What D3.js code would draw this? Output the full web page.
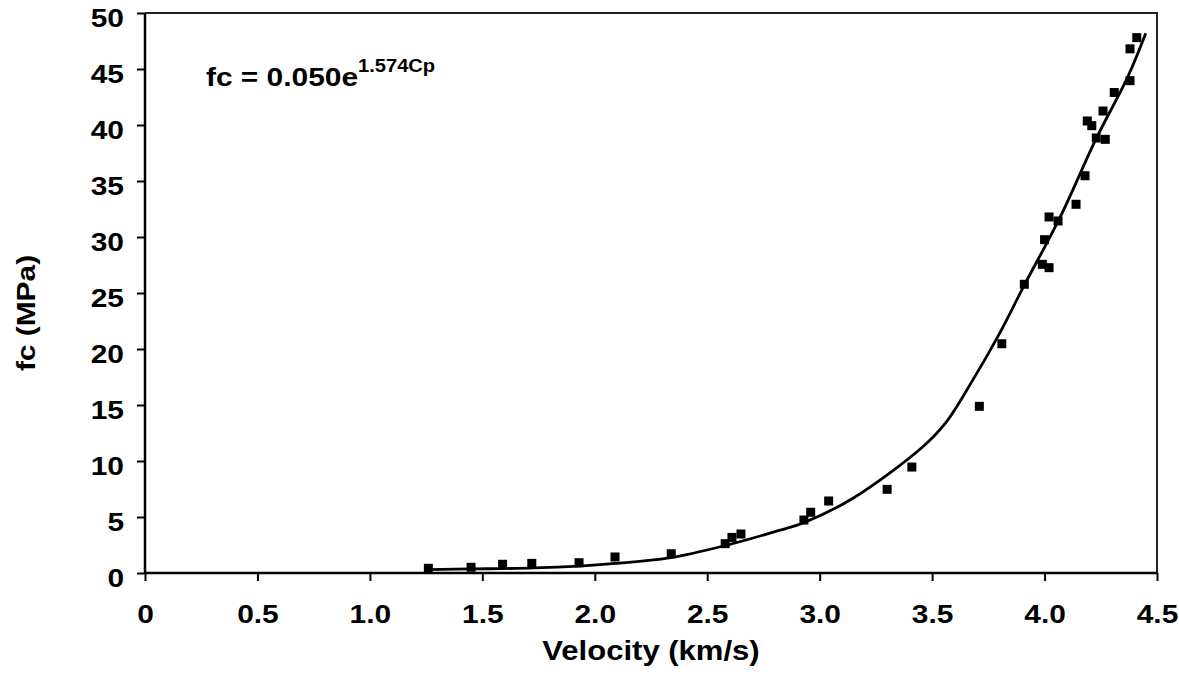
<!DOCTYPE html>
<html>
<head>
<meta charset="utf-8">
<script src="https://cdn.jsdelivr.net/npm/d3@7"></script>
<style>
  body { margin: 0; background: #fff; }
  text { font-family: "Liberation Sans", Arial, sans-serif; font-weight: bold; fill: #000; }
</style>
</head>
<body>
<div id="chart"></div>
<script>
// measured points: velocity (km/s), strength fc (MPa)
const velocity = [1.26, 1.45, 1.59, 1.72, 1.93, 2.09, 2.34, 2.58, 2.61, 2.65,
                  2.93, 2.96, 3.04, 3.30, 3.41, 3.71, 3.81, 3.91, 3.99, 4.00,
                  4.02, 4.02, 4.06, 4.14, 4.18, 4.19, 4.21, 4.23, 4.26, 4.27,
                  4.31, 4.38, 4.38, 4.41]
const strength = [0.42, 0.51, 0.78, 0.86, 0.92, 1.43, 1.72, 2.62, 3.18, 3.48,
                  4.73, 5.42, 6.43, 7.47, 9.46, 14.88, 20.47, 25.78, 27.56, 29.76,
                  31.79, 27.26, 31.43, 32.92, 35.47, 40.36, 39.94, 38.84, 41.25, 38.72,
                  42.90, 43.96, 46.80, 47.80]

// trend line
const trendX = [1.26, 1.45, 1.73, 1.93, 2.09, 2.33, 2.58, 2.82, 2.93, 3.15,
                3.46, 3.56, 3.68, 3.80, 3.91, 4.07, 4.23, 4.37, 4.45]
const trendY = [0.31, 0.36, 0.45, 0.62, 0.85, 1.34, 2.45, 3.8, 4.5, 6.7,
                11.3, 13.4, 17.2, 21.4, 25.7, 31.8, 38.8, 44.3, 48.2]

const xTicks = [0, 0.5, 1.0, 1.5, 2.0, 2.5, 3.0, 3.5, 4.0, 4.5]
const yTicks = [0, 5, 10, 15, 20, 25, 30, 35, 40, 45, 50]

const W = 1179, H = 677
const margin = {left: 145, right: 22, top: 13, bottom: 104}
const sx = 1.15  // the source text is a bit wide

const svg = d3.select('#chart').append('svg')
  .attr('width', W)
  .attr('height', H)

const x = d3.scaleLinear().domain([0, 4.5]).range([margin.left, W - margin.right])
const y = d3.scaleLinear().domain([0, 50]).range([H - margin.bottom, margin.top])

// frame (top + right)
svg.append('path')
  .attr('d', `M${x(0)},${y(50)}H${x(4.5)}V${y(0)}`)
  .attr('fill', 'none')
  .attr('stroke', '#222')
  .attr('stroke-width', 2)

const xAxis = svg.append('g')
  .attr('transform', `translate(0,${y(0)})`)
  .call(d3.axisBottom(x).tickValues(xTicks).tickSize(8).tickPadding(24)
    .tickFormat(d => d === 0 ? '0' : d3.format('.1f')(d)))
const yAxis = svg.append('g')
  .attr('transform', `translate(${x(0)},0)`)
  .call(d3.axisLeft(y).tickValues(yTicks).tickSize(8).tickPadding(13))

for (const ax of [xAxis, yAxis]) {
  ax.select('.domain').attr('stroke-width', 2.5).attr('stroke', '#000')
  ax.selectAll('.tick line').attr('stroke-width', 2).attr('stroke', '#000')
  ax.selectAll('.tick text')
    .style('font-family', '"Liberation Sans", Arial, sans-serif')
    .style('font-weight', 'bold')
    .style('font-size', '26px')
    .attr('fill', '#000')
}
xAxis.selectAll('.tick text').attr('transform', `scale(${sx},1)`)
yAxis.selectAll('.tick text')
  .attr('x', 0)
  .attr('transform', `translate(-21,5) scale(${sx},1)`)

xAxis.select('.domain').attr('d', `M${x(0)},0H${x(4.5)}`)
yAxis.select('.domain').attr('d', `M0,${y(0)}V${y(50)}`)

// trend line
const pts = trendX.map((v, i) => [v, trendY[i]])
svg.append('path')
  .datum(pts)
  .attr('fill', 'none')
  .attr('stroke', '#000')
  .attr('stroke-width', 2.8)
  .attr('d', d3.line().x(d => x(d[0])).y(d => y(d[1])).curve(d3.curveCatmullRom.alpha(0.5)))

// data squares
const sz = 9
svg.selectAll('rect.pt')
  .data(velocity.map((v, i) => ({v, f: strength[i]})))
  .join('rect')
    .attr('class', 'pt')
    .attr('x', d => x(d.v) - sz / 2)
    .attr('y', d => y(d.f) - sz / 2)
    .attr('width', sz)
    .attr('height', sz)
    .attr('fill', '#000')

// axis titles
svg.append('text')
  .attr('transform', `translate(${(x(0) + x(4.5)) / 2},660) scale(${sx},1)`)
  .attr('text-anchor', 'middle')
  .style('font-size', '27px')
  .text('Velocity (km/s)')

svg.append('text')
  .attr('transform', `translate(35,313) rotate(-90) scale(${sx},1)`)
  .attr('text-anchor', 'middle')
  .style('font-size', '26px')
  .text('fc (MPa)')

// equation
const eq = svg.append('text')
  .attr('transform', `translate(206,86) scale(${sx},1)`)
  .style('font-size', '26px')
eq.append('tspan').text('fc = 0.050e')
eq.append('tspan').attr('dy', -14).style('font-size', '17.5px').text('1.574Cp')
</script>
</body>
</html>
